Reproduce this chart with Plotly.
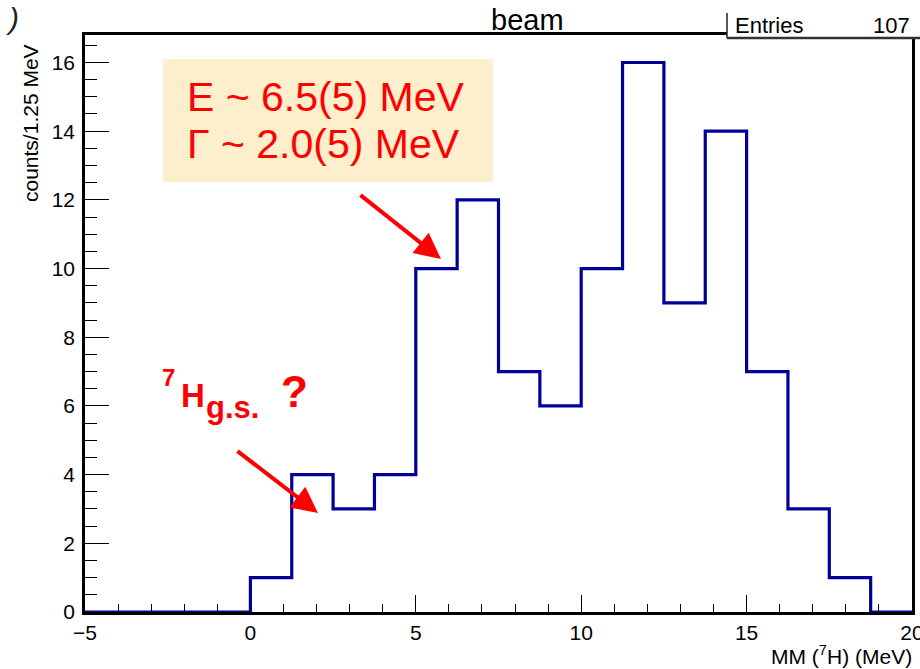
import plotly.graph_objects as go

# ---------------- data ----------------
bin_width = 1.25
x_low = -5.0
counts = [0, 0, 0, 0, 1, 4, 3, 4, 10, 12, 7, 6, 10, 16, 9, 14, 7, 3, 1, 0]
entries = sum(counts)
x_ticks = [-5, 0, 5, 10, 15, 20]
y_ticks = [0, 2, 4, 6, 8, 10, 12, 14, 16]

edges = [x_low + i * bin_width for i in range(len(counts) + 1)]
xs = edges
ys = counts + [counts[-1]]

# ---------------- layout helpers ----------------
W, H = 920, 669
PL, PR, PT, PB = 85, 912, 35, 612


def px(x):
    return (x - PL) / (PR - PL)


def py(y):
    return (PB - y) / (PB - PT)


FONT = "Liberation Sans, Arial, Helvetica, sans-serif"
RED = "#ff0000"

fig = go.Figure()
fig.add_trace(go.Scatter(
    x=xs, y=ys, mode="lines", line=dict(shape="hv", color="#000099", width=3.2),
    cliponaxis=False, hoverinfo="skip", showlegend=False))

fig.update_layout(
    width=W, height=H,
    margin=dict(l=PL, r=W - PR, t=PT, b=H - PB, autoexpand=False),
    paper_bgcolor="white", plot_bgcolor="white",
    font=dict(family=FONT, color="black"),
    showlegend=False,
    xaxis=dict(range=[-5, 20], tickvals=x_ticks, ticks="inside", ticklen=17, tickwidth=1.3,
               tickcolor="black", showgrid=False, zeroline=False, showline=True,
               linecolor="black", linewidth=2.5, mirror=True, layer="below traces",
               automargin=False, ticklabeloverflow="allow",
               tickfont=dict(size=21, color="black"),
               minor=dict(dtick=1, ticks="inside", ticklen=8, tickwidth=1.3, tickcolor="black",
                          showgrid=False)),
    yaxis=dict(range=[0, 16.8], tickvals=y_ticks, ticks="inside", ticklen=24, tickwidth=1.3,
               tickcolor="black", showgrid=False, zeroline=False, showline=True,
               linecolor="black", linewidth=2.5, mirror=True, layer="below traces",
               automargin=False, ticklabeloverflow="allow",
               tickfont=dict(size=21, color="black"), ticklabelstandoff=3,
               minor=dict(dtick=0.5, ticks="inside", ticklen=12, tickwidth=1.3, tickcolor="black",
                          showgrid=False)),
)

shapes = []
# beige annotation box
shapes.append(dict(type="rect", xref="paper", yref="paper",
                   x0=px(163), x1=px(493), y0=py(182), y1=py(59),
                   fillcolor="#fdefcb", line=dict(width=0), layer="above"))
# stats box (clipped at the right / top of the page)
shapes.append(dict(type="rect", xref="paper", yref="paper",
                   x0=px(727), x1=px(930), y0=py(38), y1=py(-5),
                   fillcolor="white", line=dict(width=0), layer="above"))
shapes.append(dict(type="line", xref="paper", yref="paper",
                   x0=px(727), x1=px(727), y0=py(38), y1=py(13),
                   line=dict(color="#222", width=1.5), layer="above"))
shapes.append(dict(type="line", xref="paper", yref="paper",
                   x0=px(727), x1=px(925), y0=py(38), y1=py(38),
                   line=dict(color="#333", width=2.5), layer="above"))
fig.update_layout(shapes=shapes)

ann = []
# title
ann.append(dict(xref="paper", yref="paper", x=px(527), y=py(38), xanchor="center", yanchor="bottom",
                text="beam", showarrow=False, font=dict(size=29, family=FONT, color="black")))
ann.append(dict(xref="paper", yref="paper", x=px(4), y=py(0), xanchor="left", yanchor="top",
                text="<i>)</i>", showarrow=False, font=dict(size=30, family=FONT, color="#222")))
# stats box text
ann.append(dict(xref="paper", yref="paper", x=px(733), y=py(26), xanchor="left", yanchor="middle",
                text="Entries", showarrow=False, font=dict(size=22, family=FONT, color="black")))
ann.append(dict(xref="paper", yref="paper", x=px(912), y=py(26), xanchor="right", yanchor="middle",
                text=str(entries), showarrow=False, font=dict(size=22, family=FONT, color="black")))
# axis titles
ann.append(dict(xref="paper", yref="paper", x=px(30), y=py(123), xanchor="center", yanchor="middle",
                text="counts/1.25 MeV", textangle=-90, showarrow=False,
                font=dict(size=21, family=FONT, color="black")))
ann.append(dict(xref="paper", yref="paper", x=px(914), y=py(655), xanchor="right", yanchor="middle",
                text="MM (<sup>7</sup>H) (MeV)", showarrow=False,
                font=dict(size=21, family=FONT, color="black")))

# red resonance text
for txt, yc in [("E ~ 6.5(5) MeV", 97), ("Γ ~ 2.0(5) MeV", 144)]:
    ann.append(dict(xref="paper", yref="paper", x=px(185), y=py(yc), xanchor="left",
                    yanchor="middle", text=txt, showarrow=False,
                    font=dict(size=41, family=FONT, color=RED)))

# 7H g.s. ? label built from pieces
for txt, x0, ymid, size in [("7", 160, 377, 24), ("H", 179, 395, 33),
                            ("g.s.", 204, 407, 31), ("?", 279, 391, 44)]:
    ann.append(dict(xref="paper", yref="paper", x=px(x0), y=py(ymid), xanchor="left",
                    yanchor="middle", text="<b>%s</b>" % txt, showarrow=False,
                    font=dict(size=size, family=FONT, color=RED)))

# arrows
for (tx, ty, hx, hy) in [(359, 194, 441, 259), (236, 450, 318, 513)]:
    ann.append(dict(xref="paper", yref="paper", x=px(hx), y=py(hy), ax=tx - hx, ay=ty - hy,
                    text="", showarrow=True, arrowhead=2, arrowsize=1.3, arrowwidth=4,
                    arrowcolor=RED, standoff=0))

fig.update_layout(annotations=ann)

fig.write_html("out.html")
